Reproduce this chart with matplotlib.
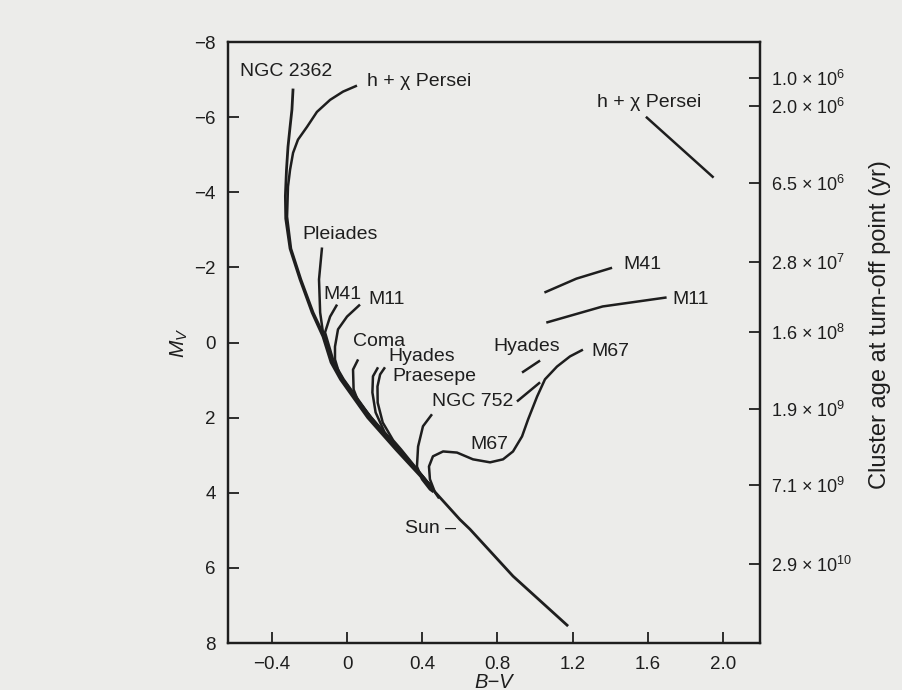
import numpy as np
import matplotlib
matplotlib.use("Agg")
import matplotlib.pyplot as plt

# -----------------------------
# Data (B-V, M_V)
# -----------------------------
zams_bv = [-0.287, -0.293, -0.303, -0.314, -0.322, -0.328, -0.326, -0.303, -0.250, -0.186, -0.128,
           -0.085, -0.035, 0.11, 0.26, 0.441, 0.60, 0.654, 0.883, 1.176]
zams_mv = [-6.76, -6.20, -5.74, -5.21, -4.60, -3.90, -3.30, -2.50, -1.68, -0.80, -0.16,
           0.53, 0.98, 2.00, 2.85, 3.83, 4.71, 4.97, 6.22, 7.55]

# turn-off branches, each runs down into the main sequence
branches = {
    "h+x Persei": ([0.053, -0.021, -0.090, -0.160, -0.213, -0.261, -0.287, -0.303, -0.314, -0.319,
                    -0.298, -0.245, -0.18, -0.12, -0.075, -0.022, 0.125, 0.272, 0.447],
                   [-6.84, -6.68, -6.46, -6.14, -5.74, -5.40, -5.05, -4.60, -4.15, -3.35,
                    -2.50, -1.68, -0.80, -0.16, 0.53, 0.98, 2.00, 2.85, 3.83]),
    "Pleiades": ([-0.133, -0.149, -0.143, -0.128, -0.075, -0.022, 0.125, 0.272, 0.447],
                 [-2.53, -1.68, -0.80, -0.27, 0.53, 0.98, 2.00, 2.85, 3.83]),
    "M41": ([-0.053, -0.090, -0.117, -0.07, -0.018, 0.128, 0.274, 0.447],
            [-1.01, -0.69, -0.27, 0.53, 0.98, 2.00, 2.85, 3.83]),
    "M11": ([0.069, 0.0, -0.048, -0.064, -0.064, -0.04, 0.0, 0.13, 0.276, 0.448],
            [-1.01, -0.69, -0.35, 0.11, 0.45, 0.85, 1.20, 2.00, 2.85, 3.83]),
    "Coma": ([0.059, 0.032, 0.035, 0.07, 0.16, 0.278, 0.448],
             [0.45, 0.72, 1.25, 1.70, 2.23, 2.85, 3.85]),
    "Hyades": ([0.165, 0.138, 0.135, 0.152, 0.20, 0.282, 0.45],
               [0.66, 0.90, 1.33, 1.86, 2.39, 2.85, 3.85]),
    "Praesepe": ([0.202, 0.176, 0.162, 0.163, 0.19, 0.245, 0.288, 0.45],
                 [0.66, 0.85, 1.17, 1.60, 2.13, 2.60, 2.85, 3.85]),
    "NGC 752": ([0.452, 0.404, 0.378, 0.372, 0.399, 0.441, 0.46],
                [1.91, 2.23, 2.77, 3.30, 3.64, 3.91, 3.98]),
    "M67": ([0.49, 0.468, 0.441, 0.436, 0.457, 0.511, 0.585, 0.670, 0.761, 0.830, 0.883, 0.931,
             0.963, 1.011, 1.053, 1.117, 1.186, 1.255],
            [4.15, 3.99, 3.64, 3.30, 3.03, 2.90, 2.93, 3.11, 3.19, 3.11, 2.90, 2.50,
             2.05, 1.44, 0.98, 0.64, 0.37, 0.19]),
}

# giant-branch segments
giants = {
    "h+x Persei": ([1.59, 1.95], [-6.01, -4.39]),
    "M41": ([1.05, 1.22, 1.41], [-1.33, -1.70, -1.99]),
    "M11": ([1.06, 1.36, 1.70], [-0.53, -0.96, -1.20]),
    "Hyades": ([0.931, 1.027], [0.80, 0.48]),
    "NGC 752": ([0.904, 1.027], [1.57, 1.06]),
}

# labels: text, B-V (left edge), M_V
label_text = ["NGC 2362", "h + χ Persei", "Pleiades", "M41", "M11", "Coma", "Hyades", "Praesepe",
              "NGC 752", "M67", "Sun –", "Hyades", "M67", "M41", "M11", "h + χ Persei"]
label_bv = [-0.57, 0.106, -0.24, -0.128, 0.112, 0.032, 0.218, 0.24,
            0.452, 0.654, 0.31, 0.777, 1.30, 1.47, 1.73, 1.33]
label_mv = [-7.21, -6.94, -2.87, -1.28, -1.14, -0.03, 0.37, 0.90,
            1.57, 2.71, 4.95, 0.10, 0.24, -2.07, -1.14, -6.38]

# right axis: cluster age at turn-off point
age_mv = [-7.05, -6.3, -4.26, -2.15, -0.27, 1.76, 3.8, 5.9]
age_labels = [r"1.0 × 10$^{6}$", r"2.0 × 10$^{6}$", r"6.5 × 10$^{6}$", r"2.8 × 10$^{7}$",
              r"1.6 × 10$^{8}$", r"1.9 × 10$^{9}$", r"7.1 × 10$^{9}$", r"2.9 × 10$^{10}$"]

x_ticks = [-0.4, 0, 0.4, 0.8, 1.2, 1.6, 2.0]
x_ticklabels = ["−0.4", "0", "0.4", "0.8", "1.2", "1.6", "2.0"]
y_ticks = [-8, -6, -4, -2, 0, 2, 4, 6, 8]
y_ticklabels = ["−8", "−6", "−4", "−2", "0", "2", "4", "6", "8"]

# -----------------------------
# Style
# -----------------------------
plt.rcParams['font.family'] = ['Liberation Sans', 'DejaVu Sans']
plt.rcParams['mathtext.fontset'] = 'custom'
plt.rcParams['mathtext.rm'] = 'Liberation Sans'
plt.rcParams['mathtext.it'] = 'Liberation Sans:italic'
INK = '#1e1e1e'
BG = '#ececea'

fig = plt.figure(figsize=(9.02, 6.9), dpi=100, facecolor=BG)
ax = fig.add_axes([0.2528, 0.0681, 0.5898, 0.8710], facecolor=BG)

line_kw = dict(color=INK, solid_capstyle='butt', solid_joinstyle='round')
ax.plot(zams_bv, zams_mv, lw=2.0, **line_kw)
for name, (bv, mv) in branches.items():
    ax.plot(bv, mv, lw=1.8, **line_kw)
for name, (bv, mv) in giants.items():
    ax.plot(bv, mv, lw=1.8, **line_kw)

for t, bv, mv in zip(label_text, label_bv, label_mv):
    ax.text(bv, mv, t, fontsize=14, color=INK, ha='left', va='center')

ax.set_xlim(-0.633, 2.197)
ax.set_ylim(8, -8)
ax.set_xticks(x_ticks)
ax.set_xticklabels(x_ticklabels)
ax.set_yticks(y_ticks)
ax.set_yticklabels(y_ticklabels)
ax.tick_params(direction='in', length=8, width=1.3, labelsize=13.5, colors=INK, pad=9)
for s in ax.spines.values():
    s.set_linewidth(1.6)
    s.set_color(INK)

ax.set_xlabel("B−V", fontsize=14.5, style='italic', color=INK, labelpad=0)
ax.set_ylabel(r"$M_V$", fontsize=15, color=INK)
ax.yaxis.set_label_coords(-0.072, 0.5)

ax2 = ax.twinx()
ax2.set_ylim(8, -8)
ax2.set_yticks(age_mv)
ax2.set_yticklabels(age_labels)
ax2.tick_params(direction='in', length=8, width=1.3, labelsize=13, colors=INK, pad=8)
for s in ax2.spines.values():
    s.set_linewidth(1.6)
    s.set_color(INK)

# right-hand axis title sits a bit above the axis middle
fig.text(880 / 902, 1 - 325 / 690, "Cluster age at turn-off point (yr)", fontsize=17,
         color=INK, rotation=90, ha='center', va='center')

fig.savefig("out.png", dpi=100, facecolor=BG)
